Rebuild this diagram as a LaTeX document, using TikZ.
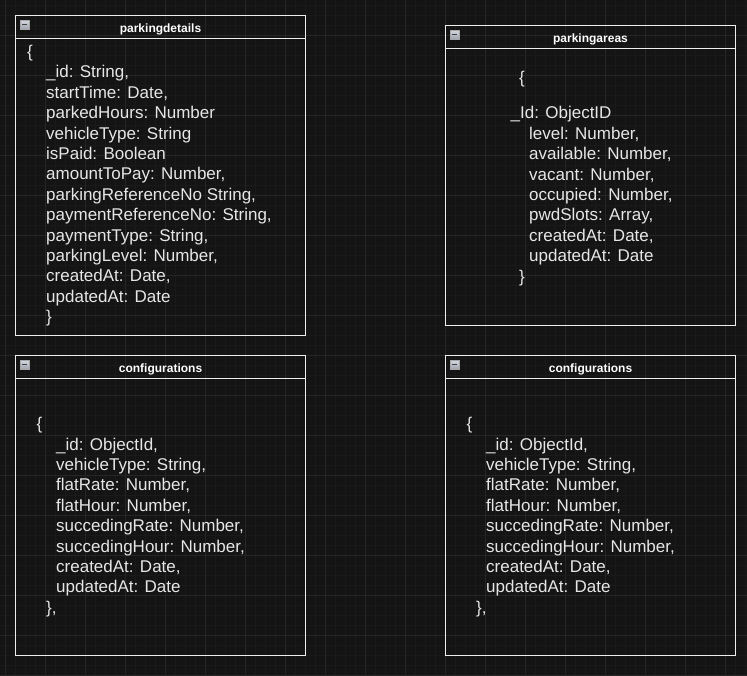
\documentclass[tikz,border=0pt]{standalone}
\usepackage{fontspec}
\setmainfont{Liberation Sans}
\usetikzlibrary{positioning}

\definecolor{bgcol}{HTML}{141414}
\definecolor{gridminor}{HTML}{1A1A1A}
\definecolor{gridmajor}{HTML}{262626}
\definecolor{boxline}{HTML}{EEEEEE}
\definecolor{textcol}{HTML}{E6E6E6}
\definecolor{icontop}{HTML}{D4D8E0}
\definecolor{iconbot}{HTML}{9CA2AC}

\tikzset{
        box/.style={draw=boxline, line width=1pt, minimum width=290, inner sep=0pt, anchor=north west},
        titlebar/.style={box, minimum height=23, text=white, text height=11pt, text depth=0pt, font=\fontsize{12}{14}\selectfont\bfseries},
        icon/.style={draw=gray!70, line width=0.5pt, top color=icontop, bottom color=iconbot, minimum size=9, inner sep=0pt, anchor=north west,
                path picture={\draw[black!75, line width=1.3pt] ([xshift=2pt]path picture bounding box.west) -- ([xshift=-2pt]path picture bounding box.east);}},
        field/.style={anchor=base west, inner sep=0pt, text=textcol, font=\fontsize{17}{20}\selectfont}
}

\begin{document}
\begin{tikzpicture}[x=1pt, y=-1pt]
        \useasboundingbox (0,0) rectangle (747,676);
        \fill[bgcol] (0,0) rectangle (747,676);
        \foreach \gx in {5,15,...,745} \draw[gridminor, line width=0.6pt] (\gx,0) -- (\gx,676);
        \foreach \gy in {5,15,...,675} \draw[gridminor, line width=0.6pt] (0,\gy) -- (747,\gy);
        \foreach \gx in {5,45,...,745} \draw[gridmajor, line width=0.8pt] (\gx,0) -- (\gx,676);
        \foreach \gy in {35,75,...,675} \draw[gridmajor, line width=0.8pt] (0,\gy) -- (747,\gy);

        \node[box, minimum height=320] (pdbox) at (15,15) {};
        \node[titlebar] (pdtitle) at (15,15) {parkingdetails};
        \node[icon] (pdicon) at (20,20) {};
        \node[field] (pdopen) at (27,57.6) {\{};
        \foreach \t [count=\i] in {{\_id: String,},{startTime: Date,},{parkedHours: Number},{vehicleType: String},{isPaid: Boolean},{amountToPay: Number,},{parkingReferenceNo String,},{paymentReferenceNo: String,},{paymentType: String,},{parkingLevel: Number,},{createdAt: Date,},{updatedAt: Date}}
                \node[field] (pdf\i) at (46,{57.6+20.4*\i}) {\t};
        \node[field] (pdclose) at (46,322.8) {\}};

        \node[box, minimum height=300] (pabox) at (445,25) {};
        \node[titlebar] (patitle) at (445,25) {parkingareas};
        \node[icon] (paicon) at (450,30) {};
        \node[field] (paopen) at (519,84) {\{};
        \node[field] (paid) at (510.5,119) {\_Id: ObjectID};
        \foreach \t [count=\i] in {{level: Number,},{available: Number,},{vacant: Number,},{occupied: Number,},{pwdSlots: Array,},{createdAt: Date,},{updatedAt: Date}}
                \node[field] (paf\i) at (529,{119+20.4*\i}) {\t};
        \node[field] (paclose) at (519,282.2) {\}};

        \foreach \ox/\nm in {0/cfa,430/cfb} {
                \node[box, minimum height=300] (\nm box) at (15+\ox,355) {};
                \node[titlebar] (\nm title) at (15+\ox,355) {configurations};
                \node[icon] (\nm icon) at (20+\ox,360) {};
                \node[field] (\nm open) at (36.5+\ox,429.6) {\{};
                \foreach \t [count=\i from 0] in {{\_id: ObjectId,},{vehicleType: String,},{flatRate: Number,},{flatHour: Number,},{succedingRate: Number,},{succedingHour: Number,},{createdAt: Date,},{updatedAt: Date}}
                        \node[field] (\nm f\i) at (56+\ox,{450+20.4*\i}) {\t};
                \node[field] (\nm close) at (46+\ox,613.2) {\},};
        }
\end{tikzpicture}
\end{document}
